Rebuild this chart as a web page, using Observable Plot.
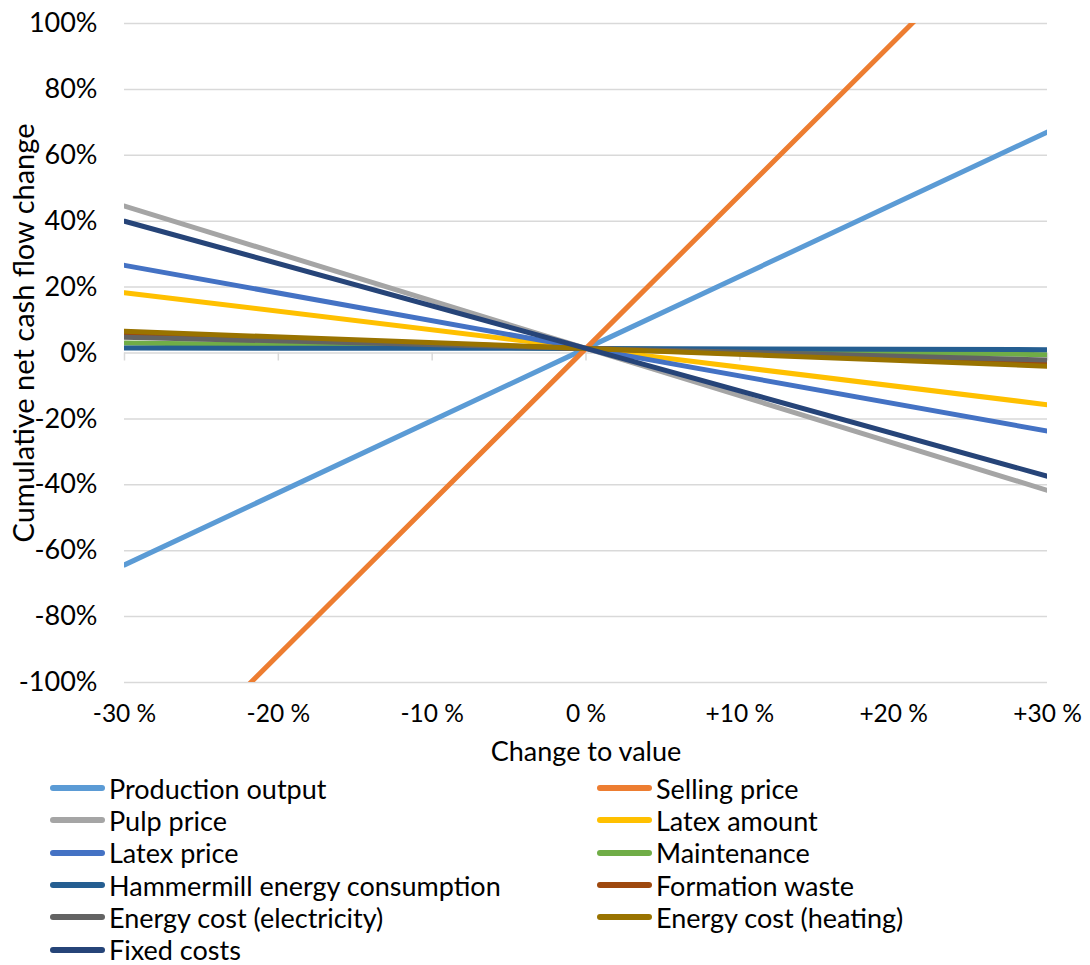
<!DOCTYPE html>
<html>
<head>
<meta charset="utf-8">
<script src="https://cdn.jsdelivr.net/npm/d3@7"></script>
<script src="https://cdn.jsdelivr.net/npm/@observablehq/plot@0.6"></script>
<style>
  body { margin: 0; background: #fff; font-family: Lato, "Open Sans", sans-serif; }
  #chart { position: relative; width: 1090px; height: 965px; background: #fff; }
  #legend {
    position: absolute; left: 50px; top: 772px;
    display: grid; grid-template-columns: 547px 440px; grid-auto-rows: 32.3px;
  }
  .item { display: flex; align-items: center; font-size: 27px; color: #000; white-space: nowrap; }
  .sw { width: 55px; height: 6px; border-radius: 3px; margin-right: 4px; flex: none; }
</style>
</head>
<body>
<div id="chart"></div>
<script>
// Change applied to each input, in percent
const changes = [-30, 0, 30];

// Series names and colours (draw order = legend order)
const seriesNames = [
  "Production output", "Selling price", "Pulp price", "Latex amount",
  "Latex price", "Maintenance", "Hammermill energy consumption", "Formation waste",
  "Energy cost (electricity)", "Energy cost (heating)", "Fixed costs"
];
const seriesColors = [
  "#5B9BD5", "#ED7D31", "#A5A5A5", "#FFC000",
  "#4472C4", "#70AD47", "#255E91", "#9E480E",
  "#636363", "#997300", "#264478"
];

// Cumulative net cash flow change (%) at -30 %, 0 %, +30 %
const productionOutput   = [-64.3, 1.4, 67.1];
const sellingPrice       = [-138.2, 1.4, 141.0];
const pulpPrice          = [44.6, 1.4, -41.7];
const latexAmount        = [18.3, 1.4, -15.7];
const latexPrice         = [26.6, 1.4, -23.7];
const maintenance        = [3.0, 1.4, -0.5];
const hammermillEnergy   = [1.5, 1.4, 1.0];
const formationWaste     = [5.8, 1.4, -3.3];
const energyElectricity  = [4.8, 1.4, -2.1];
const energyHeating      = [6.6, 1.4, -4.0];
const fixedCosts         = [40.0, 1.4, -37.4];

const seriesValues = [
  productionOutput, sellingPrice, pulpPrice, latexAmount,
  latexPrice, maintenance, hammermillEnergy, formationWaste,
  energyElectricity, energyHeating, fixedCosts
];

// Axis ticks
const xTicks = [-30, -20, -10, 0, 10, 20, 30];
const xTickLabels = ["-30 %", "-20 %", "-10 %", "0 %", "+10 %", "+20 %", "+30 %"];
const yTicks = [-100, -80, -60, -40, -20, 0, 20, 40, 60, 80, 100];

const xTitle = "Change to value";
const yTitle = "Cumulative net cash flow change";

// Long-format rows for the line mark
const rows = [];
seriesNames.forEach((name, i) => {
  changes.forEach((c, j) => rows.push({series: name, change: c, value: seriesValues[i][j]}));
});

const chart = Plot.plot({
  width: 1090,
  height: 775,
  marginTop: 23,
  marginBottom: 93,
  marginLeft: 124,
  marginRight: 43,
  style: {fontFamily: "Lato, 'Open Sans', sans-serif", fontSize: "25px", color: "#000", background: "#fff"},
  x: {domain: [-30, 30]},
  y: {domain: [-100, 100]},
  color: {domain: seriesNames, range: seriesColors},
  marks: [
    Plot.ruleY(yTicks, {stroke: "#d9d9d9", strokeWidth: 1.5}),
    Plot.ruleX(xTicks, {y1: 0, y2: 0, insetBottom: -8, stroke: "#d9d9d9", strokeWidth: 1.5}),
    Plot.axisY({ticks: yTicks, tickSize: 0, tickPadding: 27, tickFormat: d => d + "%", fontSize: 27, label: null}),
    Plot.axisX({ticks: xTicks, tickSize: 0, tickPadding: 22, tickFormat: d => xTickLabels[xTicks.indexOf(d)], fontSize: 24.5, label: null}),
    Plot.line(rows, {x: "change", y: "value", z: "series", stroke: "series", strokeWidth: 5, strokeLinecap: "round", clip: true}),
    Plot.text([xTitle], {text: d => d, frameAnchor: "bottom", dy: 78, fontSize: 27}),
    Plot.text([yTitle], {text: d => d, frameAnchor: "left", textAnchor: "middle", dx: -100, dy: -20, rotate: -90, fontSize: 29})
  ]
});

const root = document.getElementById("chart");
root.appendChild(chart);

// Legend: two columns, row-major, below the chart
const legend = document.createElement("div");
legend.id = "legend";
seriesNames.forEach((name, i) => {
  const item = document.createElement("div");
  item.className = "item";
  const sw = document.createElement("span");
  sw.className = "sw";
  sw.style.background = seriesColors[i];
  const label = document.createElement("span");
  label.textContent = name;
  item.appendChild(sw);
  item.appendChild(label);
  legend.appendChild(item);
});
root.appendChild(legend);
</script>
</body>
</html>
